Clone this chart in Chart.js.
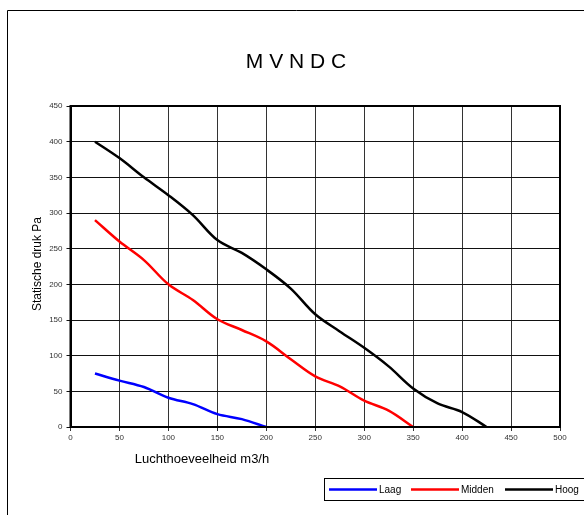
<!DOCTYPE html>
<html lang="nl">
<head>
    <meta charset="UTF-8">
    <title>MVNDC</title>
    <script src="https://cdn.jsdelivr.net/npm/chart.js"></script>
    <style>
        html, body { margin: 0; padding: 0; background: #fff; }
        #wrap { width: 584px; height: 515px; }
    </style>
</head>
<body>
    <div id="wrap"><canvas id="mvndc"></canvas></div>

    <script>
        // Luchthoeveelheid (m3/h) per curve
        const laagX   = [25, 50, 75, 100, 125, 150, 175, 200];
        const laagY   = [75, 65, 56, 41, 32, 18, 11, 0];
        const middenX = [25, 50, 75, 100, 125, 150, 175, 200, 225, 250, 275, 300, 325, 350];
        const middenY = [290, 260, 234, 200, 178, 151, 136, 120, 95, 71, 57, 37, 23, 0];
        const hoogX   = [25, 50, 75, 100, 125, 150, 175, 200, 225, 250, 275, 300, 325, 350, 375, 400, 425];
        const hoogY   = [400, 377, 350, 325, 297, 262, 244, 221, 194, 158, 134, 111, 85, 54, 33, 21, 0];

        const seriesNames = ['Laag', 'Midden', 'Hoog'];
        const seriesColors = ['#0000ff', '#ff0000', '#000000'];
        const chartTitle = 'M V N D C';

        function pts(xs, ys) {
            return xs.map((x, i) => ({ x: x, y: ys[i] }));
        }

        // kader, titels en legenda
        const decor = {
            id: 'decor',
            beforeDraw(chart) {
                const c = chart.ctx;
                c.save();
                c.strokeStyle = '#000';
                c.lineWidth = 1;
                c.beginPath();
                c.moveTo(7.5, 520);
                c.lineTo(7.5, 10.5);
                c.lineTo(590, 10.5);
                c.stroke();
                c.restore();
            },
            afterDraw(chart) {
                const c = chart.ctx;
                const a = chart.chartArea;
                c.save();
                c.fillStyle = '#000';
                c.textAlign = 'center';
                c.textBaseline = 'middle';
                c.font = '21px Arial';
                c.fillText(chartTitle, 296, 62);
                c.font = '13px Arial';
                c.fillText('Luchthoeveelheid m3/h', 202, 459);
                c.save();
                c.translate(37.5, 264);
                c.rotate(-Math.PI / 2);
                c.font = '12px Arial';
                c.fillText('Statische druk Pa', 0, 0);
                c.restore();

                // plotkader
                c.strokeStyle = '#000';
                c.lineWidth = 2;
                c.strokeRect(a.left, a.top, a.right - a.left, a.bottom - a.top);

                // legenda
                c.lineWidth = 1;
                c.strokeRect(324.5, 478.5, 270, 22);
                c.font = '10px Arial';
                c.textAlign = 'left';
                const starts = [329, 411, 505];
                seriesNames.forEach((n, i) => {
                    c.strokeStyle = seriesColors[i];
                    c.lineWidth = 2.5;
                    c.beginPath();
                    c.moveTo(starts[i], 489.5);
                    c.lineTo(starts[i] + 48, 489.5);
                    c.stroke();
                    c.fillStyle = '#000';
                    c.fillText(n, starts[i] + 50, 490);
                });
                c.restore();
            }
        };

        const ctx = document.getElementById('mvndc').getContext('2d');
        new Chart(ctx, {
            type: 'line',
            data: {
                datasets: [
                    { label: seriesNames[0], data: pts(laagX, laagY), borderColor: seriesColors[0] },
                    { label: seriesNames[1], data: pts(middenX, middenY), borderColor: seriesColors[1] },
                    { label: seriesNames[2], data: pts(hoogX, hoogY), borderColor: seriesColors[2] }
                ]
            },
            options: {
                responsive: true,
                maintainAspectRatio: false,
                animation: false,
                parsing: false,
                layout: { padding: { left: 0, right: 24, top: 106, bottom: 0 } },
                elements: {
                    line: { borderWidth: 2.5, tension: 0.35, fill: false },
                    point: { radius: 0 }
                },
                plugins: {
                    legend: { display: false },
                    tooltip: { enabled: false },
                    title: { display: false }
                },
                scales: {
                    x: {
                        type: 'linear',
                        min: 0,
                        max: 500,
                        afterFit(s) { s.height = 88; },
                        border: { color: '#000', width: 2 },
                        grid: { color: '#333', lineWidth: 1, tickLength: 4 },
                        ticks: {
                            stepSize: 50,
                            padding: 2,
                            color: '#333',
                            font: { family: 'Arial', size: 8 }
                        }
                    },
                    y: {
                        min: 0,
                        max: 450,
                        afterFit(s) { s.width = 70.5; },
                        border: { color: '#000', width: 2 },
                        grid: { color: '#111', lineWidth: 1, tickLength: 4 },
                        ticks: {
                            stepSize: 50,
                            padding: 4,
                            color: '#333',
                            font: { family: 'Arial', size: 8 }
                        }
                    }
                }
            },
            plugins: [decor]
        });
    </script>
</body>
</html>
